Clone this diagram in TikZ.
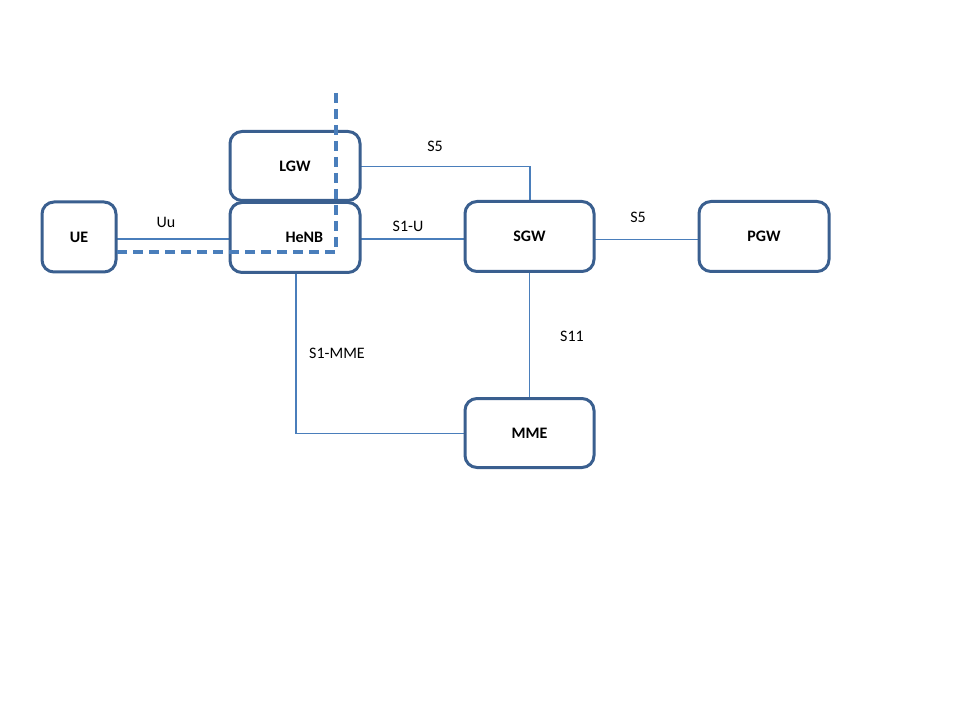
\documentclass[tikz,border=0pt]{standalone}
\usepackage{fontspec}
\setmainfont{Carlito}
\begin{document}
\begin{tikzpicture}[x=0.75pt,y=-0.75pt,
  netbox/.style={draw=boxblue,line width=2.25pt,rounded corners=9pt,fill=white,font=\fontsize{12}{14}\selectfont\bfseries,inner sep=0pt},
  link/.style={draw=linkblue,line width=0.9pt},
  lbl/.style={font=\fontsize{12}{14}\selectfont,inner sep=0pt},
  boundary/.style={draw=dashblue,line width=2.4pt,dash pattern=on 7.5pt off 4.5pt}]
\definecolor{boxblue}{HTML}{3A5F8F}
\definecolor{linkblue}{HTML}{4A7EBB}
\definecolor{dashblue}{HTML}{4A7EBB}
\useasboundingbox (0,0) rectangle (960,720);
\fill[white] (0,0) rectangle (960,720);
% links
\coordinate (ueR) at (116,239);
\coordinate (henbL) at (230,239);
\draw[link] (ueR) -- (henbL);
\coordinate (lgwR) at (360,166.5);
\coordinate (sgwT) at (530,201);
\draw[link] (lgwR) -| (sgwT);
\coordinate (henbR) at (360,239);
\coordinate (sgwL) at (465,239);
\draw[link] (henbR) -- (sgwL);
\coordinate (sgwR) at (594,239.5);
\coordinate (pgwL) at (699,239.5);
\draw[link] (sgwR) -- (pgwL);
\coordinate (henbB) at (296,272);
\coordinate (mmeL) at (465,433.5);
\draw[link] (henbB) |- (mmeL);
\coordinate (sgwB) at (529.5,271);
\coordinate (mmeT) at (529.5,398);
\draw[link] (sgwB) -- (mmeT);
% boxes
\node[netbox,minimum width=74*0.75pt,minimum height=70*0.75pt] (ue) at (79,237) {UE};
\node[netbox,minimum width=130*0.75pt,minimum height=69*0.75pt] (lgw) at (295,166) {LGW};
\node[netbox,minimum width=130*0.75pt,minimum height=70*0.75pt] (henb) at (295,237.5) {\hspace*{14pt}HeNB};
\node[netbox,minimum width=129*0.75pt,minimum height=70*0.75pt] (sgw) at (529.5,236.5) {SGW};
\node[netbox,minimum width=130*0.75pt,minimum height=70*0.75pt] (pgw) at (764,236.5) {PGW};
\node[netbox,minimum width=129*0.75pt,minimum height=69*0.75pt] (mme) at (529.5,433) {MME};
% labels
\node[lbl] (luu) at (166,222) {Uu};
\node[lbl] (ls5a) at (435,146) {S5};
\node[lbl] (ls1u) at (408,226) {S1-U};
\node[lbl] (ls5b) at (638,217) {S5};
\node[lbl] (ls1m) at (337,353) {S1-MME};
\node[lbl] (ls11) at (572,336) {S11};
% boundary
\coordinate (dTop) at (336,93);
\coordinate (dCorner) at (336,252);
\coordinate (dEnd) at (117,252);
\draw[boundary] (dTop) -- (dCorner) -- (dEnd);
\end{tikzpicture}
\end{document}
